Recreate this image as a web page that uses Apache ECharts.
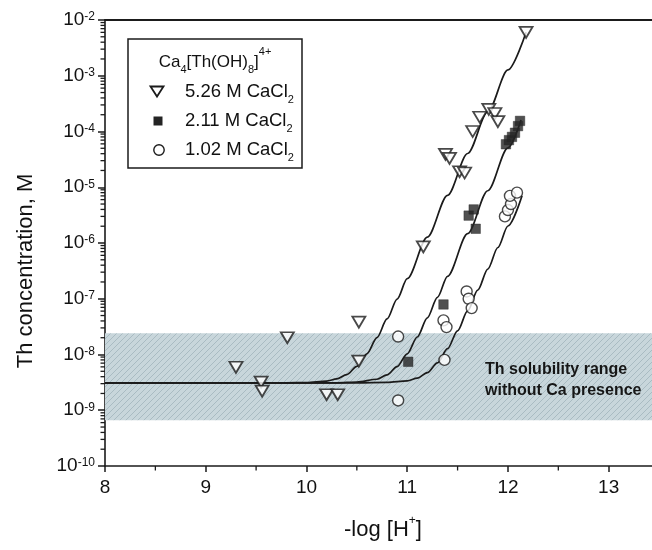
<!DOCTYPE html>
<html>
<head>
<meta charset="utf-8">
<script src="https://cdn.jsdelivr.net/npm/echarts@6/dist/echarts.min.js"></script>
<style>
  html, body { margin: 0; padding: 0; background: #ffffff; }
  #chart { width: 652px; height: 550px; }
</style>
</head>
<body>
<div id="chart"></div>
<script>
// Th solubility vs -log[H+] in CaCl2 solutions, with Ca4[Th(OH)8]4+ model curves.

const FONT = 'Liberation Sans, Arial, Helvetica, sans-serif';
const INK = '#1b1b1b';

// Axis ranges and tick labels
const xRange = [8, 13.43];
const xLabels = [8, 9, 10, 11, 12, 13];
const xHalfTicks = [8.5, 9.5, 10.5, 11.5, 12.5];
const yRange = [1e-10, 1e-2];
const yDecades = [-10, -9, -8, -7, -6, -5, -4, -3];
const yMantissas = [2, 3, 4, 5, 6, 7, 8, 9];

// Th solubility range without Ca (M)
const bandRange = [6.6e-10, 2.4e-8];

// Measured points: [-log[H+], Th concentration in M]
const data526 = [
  [9.30, 5.9e-9], [9.55, 3.2e-9], [9.56, 2.2e-9], [9.81, 2.0e-8],
  [10.20, 1.9e-9], [10.31, 1.9e-9], [10.52, 3.8e-8], [10.52, 7.6e-9],
  [11.16, 8.5e-7], [11.38, 3.9e-5], [11.42, 3.3e-5], [11.52, 1.9e-5],
  [11.57, 1.8e-5], [11.65, 1.0e-4], [11.72, 1.8e-4], [11.81, 2.5e-4],
  [11.87, 2.1e-4], [11.90, 1.5e-4], [12.18, 6.0e-3]
];
const data211 = [
  [11.01, 7.4e-9], [11.36, 7.9e-8], [11.61, 3.1e-6], [11.66, 4.0e-6],
  [11.68, 1.8e-6], [11.98, 5.9e-5], [12.01, 7.0e-5], [12.04, 8.0e-5],
  [12.07, 9.5e-5], [12.10, 1.25e-4], [12.12, 1.55e-4]
];
const data102 = [
  [10.91, 2.1e-8], [10.91, 1.5e-9], [11.37, 8.0e-9], [11.36, 4.1e-8],
  [11.39, 3.1e-8], [11.59, 1.35e-7], [11.61, 1.0e-7], [11.64, 6.8e-8],
  [11.97, 3.0e-6], [12.00, 3.9e-6], [12.03, 5.0e-6], [12.02, 7.0e-6],
  [12.09, 8.0e-6]
];

// Model curves
const fit526 = [
  [8, 3.10e-9], [9.5, 3.10e-9], [9.8, 3.11e-9], [10.0, 3.14e-9], [10.2, 3.33e-9],
  [10.3, 3.64e-9], [10.4, 4.37e-9], [10.5, 6.12e-9], [10.6, 1.03e-8], [10.7, 2.01e-8],
  [10.8, 4.34e-8], [10.9, 9.86e-8], [11.0, 2.29e-7], [11.2, 1.27e-6], [11.4, 7.16e-6],
  [11.6, 4.03e-5], [11.8, 2.26e-4], [12.0, 1.27e-3], [12.18, 6.03e-3]
];
const fit211 = [
  [8, 3.10e-9], [10.0, 3.10e-9], [10.3, 3.11e-9], [10.5, 3.19e-9], [10.7, 3.60e-9],
  [10.8, 4.32e-9], [10.9, 6.07e-9], [11.0, 1.03e-8], [11.1, 2.06e-8], [11.2, 4.55e-8],
  [11.3, 1.06e-7], [11.4, 2.53e-7], [11.6, 1.47e-6], [11.8, 8.66e-6], [12.0, 5.10e-5],
  [12.13, 1.61e-4]
];
const fit102 = [
  [8, 3.10e-9], [10.5, 3.10e-9], [10.8, 3.15e-9], [11.0, 3.37e-9], [11.1, 3.77e-9],
  [11.2, 4.72e-9], [11.3, 7.05e-9], [11.4, 1.27e-8], [11.5, 2.66e-8], [11.6, 6.04e-8],
  [11.7, 1.43e-7], [11.8, 3.40e-7], [11.9, 8.30e-7], [12.0, 2.02e-6], [12.14, 7.03e-6]
];

const seriesNames = ['5.26 M CaCl2', '2.11 M CaCl2', '1.02 M CaCl2'];

const TRIANGLE = 'path://M0,0L12,0L6,10Z';

// Minor tick positions: log-spaced on y, half units on x
const yMinorTicks = [];
yDecades.forEach(function (e) {
  yMantissas.forEach(function (m) { yMinorTicks.push([xRange[0], m * Math.pow(10, e)]); });
});
const xMinorTicks = xHalfTicks.map(function (v) { return [v, yRange[0]]; });

// Diagonal hatch used for the shaded solubility band
function hatchPattern() {
  const c = document.createElement('canvas');
  c.width = 6; c.height = 6;
  const g = c.getContext('2d');
  g.fillStyle = '#c8d6db';
  g.fillRect(0, 0, 6, 6);
  g.strokeStyle = '#a9bbc2';
  g.lineWidth = 1;
  g.beginPath();
  g.moveTo(0, 6); g.lineTo(6, 0);
  g.moveTo(-1, 1); g.lineTo(1, -1);
  g.moveTo(5, 7); g.lineTo(7, 5);
  g.stroke();
  return c;
}

const chart = echarts.init(document.getElementById('chart'), null, { renderer: 'canvas' });

function fitSeries(name, data) {
  return {
    name: name, type: 'line', data: data, showSymbol: false, symbol: 'none',
    smooth: 0.3, smoothMonotone: 'x', z: 3, silent: true,
    lineStyle: { color: INK, width: 1.7 }
  };
}

// Short tick marks drawn as thin rect symbols hanging off the axis lines
function tickMarks(data, size, offset) {
  return {
    type: 'scatter', data: data, silent: true, clip: false, z: 6,
    symbol: 'rect', symbolSize: size, symbolOffset: offset,
    itemStyle: { color: INK, opacity: 1 },
    emphasis: { disabled: true }
  };
}

const graphics = [
  // Axis titles
  {
    type: 'text', x: 26, y: 271, rotation: Math.PI / 2, z: 10,
    style: { text: 'Th concentration, M', fontSize: 22, fontFamily: FONT, fill: '#111',
             align: 'center', verticalAlign: 'middle' }
  },
  {
    type: 'text', x: 383, y: 530, z: 10,
    style: {
      text: '{n|-log [H}{u|+}{n|]}', align: 'center', verticalAlign: 'middle',
      rich: {
        n: { fontSize: 22, lineHeight: 22, fontFamily: FONT, fill: '#111' },
        u: { fontSize: 12, lineHeight: 12, padding: [0, 0, 18, 0], fontFamily: FONT, fill: '#111' }
      }
    }
  },
  // Band annotation
  {
    type: 'text', x: 485, y: 370, z: 10,
    style: { text: 'Th solubility range', fontSize: 16, fontWeight: 'bold', fontFamily: FONT,
             fill: '#161616', verticalAlign: 'middle' }
  },
  {
    type: 'text', x: 485, y: 391, z: 10,
    style: { text: 'without Ca presence', fontSize: 16, fontWeight: 'bold', fontFamily: FONT,
             fill: '#161616', verticalAlign: 'middle' }
  },
  // Legend
  {
    type: 'rect', z: 20,
    shape: { x: 128, y: 39, width: 174, height: 129 },
    style: { fill: '#ffffff', stroke: INK, lineWidth: 1.5 }
  },
  {
    type: 'text', x: 215, y: 62, z: 21,
    style: {
      text: '{n|Ca}{d|4}{n|[Th(OH)}{d|8}{n|]}{u|4+}', align: 'center', verticalAlign: 'middle',
      rich: {
        n: { fontSize: 17, lineHeight: 20, fontFamily: FONT, fill: '#111' },
        d: { fontSize: 11, lineHeight: 11, padding: [16, 0, 0, 0], fontFamily: FONT, fill: '#111' },
        u: { fontSize: 11, lineHeight: 11, padding: [0, 0, 20, 0], fontFamily: FONT, fill: '#111' }
      }
    }
  },
  {
    type: 'polygon', z: 21,
    shape: { points: [[150.5, 86.5], [163.5, 86.5], [157, 96.5]] },
    style: { fill: '#ffffff', stroke: INK, lineWidth: 1.8 }
  },
  {
    type: 'rect', z: 21,
    shape: { x: 153.5, y: 116.5, width: 9, height: 9 },
    style: { fill: '#242424' }
  },
  {
    type: 'circle', z: 21,
    shape: { cx: 159, cy: 150, r: 5.2 },
    style: { fill: '#ffffff', stroke: INK, lineWidth: 1.4 }
  }
].concat(seriesNames.map(function (name, i) {
  return {
    type: 'text', x: 185, y: 92 + i * 29, z: 21,
    style: {
      text: '{n|' + name.slice(0, -1) + '}{d|' + name.slice(-1) + '}',
      verticalAlign: 'middle',
      rich: {
        n: { fontSize: 18.5, lineHeight: 22, fontFamily: FONT, fill: '#111' },
        d: { fontSize: 11, lineHeight: 11, padding: [16, 0, 0, 0], fontFamily: FONT, fill: '#111' }
      }
    }
  };
}));

const option = {
  animation: false,
  backgroundColor: '#ffffff',
  textStyle: { fontFamily: FONT },
  grid: { left: 105, right: 0, top: 20, bottom: 84, containLabel: false },
  xAxis: [
    {
      type: 'value', min: xRange[0], max: xRange[1], interval: 1,
      axisLine: { onZero: false, lineStyle: { color: INK, width: 1.6 } },
      axisTick: { length: 6, lineStyle: { color: INK, width: 1.5 } },
      axisLabel: {
        fontSize: 19, color: '#111', margin: 12, fontFamily: FONT, showMaxLabel: false,
        formatter: function (v) { return xLabels.indexOf(v) >= 0 ? String(v) : ''; }
      },
      splitLine: { show: false }
    },
    {
      type: 'value', position: 'top', min: xRange[0], max: xRange[1], interval: 1,
      axisLine: { show: true, onZero: false, lineStyle: { color: INK, width: 2 } },
      axisTick: { show: false }, axisLabel: { show: false }, splitLine: { show: false }
    }
  ],
  yAxis: {
    type: 'log', logBase: 10, min: yRange[0], max: yRange[1], interval: 1,
    axisLine: { show: true, onZero: false, lineStyle: { color: INK, width: 1.6 } },
    axisTick: { length: 7, lineStyle: { color: INK, width: 1.5 } },
    axisLabel: {
      margin: 10, color: '#111', fontFamily: FONT,
      formatter: function (v) {
        const e = Math.round(Math.log10(v));
        return '{b|10}{s|' + e + '}';
      },
      rich: {
        b: { fontSize: 19, lineHeight: 19, fontFamily: FONT, color: '#111' },
        s: { fontSize: 12, lineHeight: 12, padding: [0, 0, 6, 0], fontFamily: FONT, color: '#111' }
      }
    },
    splitLine: { show: false }
  },
  series: [
    {
      type: 'line', data: [], silent: true, z: 1,
      markArea: {
        silent: true,
        itemStyle: { color: { image: hatchPattern(), repeat: 'repeat' } },
        data: [[
          { coord: [xRange[0], bandRange[1]] },
          { coord: [xRange[1], bandRange[0]] }
        ]]
      }
    },
    fitSeries('fit 5.26', fit526),
    fitSeries('fit 2.11', fit211),
    fitSeries('fit 1.02', fit102),
    tickMarks(yMinorTicks, [4.5, 1.3], [-2.25, 0]),
    tickMarks(xMinorTicks, [1.3, 4.5], [0, 2.25]),
    {
      name: seriesNames[0], type: 'scatter', data: data526, z: 4,
      symbol: TRIANGLE, symbolSize: [13, 11],
      itemStyle: { color: '#ffffff', borderColor: INK, borderWidth: 1.8 }
    },
    {
      name: seriesNames[1], type: 'scatter', data: data211, z: 4,
      symbol: 'rect', symbolSize: 9.5,
      itemStyle: { color: '#242424', borderColor: '#242424', borderWidth: 0.5 }
    },
    {
      name: seriesNames[2], type: 'scatter', data: data102, z: 4,
      symbol: 'circle', symbolSize: 11,
      itemStyle: { color: '#ffffff', borderColor: INK, borderWidth: 1.4 }
    }
  ],
  graphic: graphics
};

chart.setOption(option);
</script>
</body>
</html>
